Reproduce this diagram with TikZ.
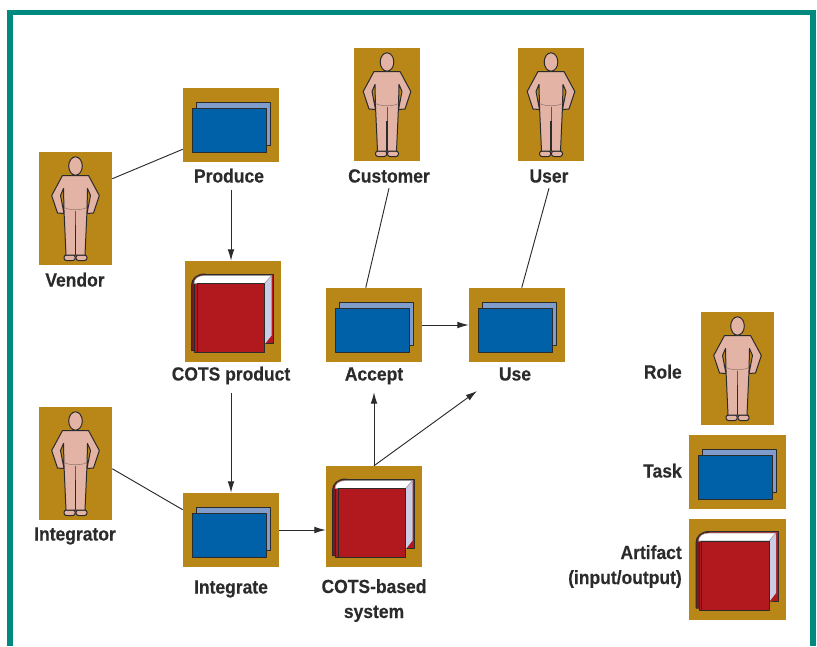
\documentclass[tikz,border=0pt]{standalone}
\usepackage{fontspec}
\setmainfont{Liberation Sans}[FakeStretch=0.92,BoldFeatures={FakeBold=0.3}]
\usetikzlibrary{arrows.meta}
\definecolor{ochre}{HTML}{B98717}
\definecolor{framecol}{HTML}{00897F}
\definecolor{skin}{HTML}{E3B3A5}
\definecolor{ink}{HTML}{2B2B2B}
\definecolor{taskfront}{HTML}{0060A8}
\definecolor{taskback}{HTML}{7F9CCB}
\definecolor{bookred}{HTML}{B2191E}
\definecolor{bookdark}{HTML}{7A1A20}
\definecolor{bookside}{HTML}{C9CDE6}
\tikzset{
  x=0.75pt,y=-0.75pt,
  iconbox/.style={fill=ochre,draw=none,inner sep=0pt},
  rolebox/.style={iconbox,minimum width=54.75pt,minimum height=84.75pt},
  narrowrole/.style={iconbox,minimum width=49.5pt,minimum height=84.75pt},
  taskbox/.style={iconbox,minimum width=72pt,minimum height=55.5pt},
  bookbox/.style={iconbox,minimum width=72pt,minimum height=75.75pt},
  lbl/.style={font=\fontsize{14.25}{18.75}\selectfont\bfseries,text=ink,inner sep=3pt,text height=10.5pt,text depth=0pt,align=center},
  conn/.style={draw=ink,line width=0.7pt},
  arr/.style={conn,-{Latex[length=8.5pt,width=5pt]}},
  figline/.style={draw=ink,line width=0.75pt,line join=round},
  rolefig/.pic={
    % feet
    \path[figline,fill=skin,rounded corners=1.8pt] (-11.5,46.5) rectangle (-0.3,52);
    \path[figline,fill=skin,rounded corners=1.8pt] (0.5,46.5) rectangle (11.5,52);
    % body and arms
    \path[figline,fill=skin] (-13,-33) -- (13,-33) -- (23.8,-13) -- (18,4.5) -- (11.5,5) -- (15,-13) -- (12,-20)
      -- (11.5,2) -- (9.5,46.5) -- (-9.5,46.5) -- (-11.5,2)
      -- (-12,-20) -- (-15,-13) -- (-11.5,5) -- (-18,4.5) -- (-23.8,-13) -- cycle;
    \draw[draw=ink!70!skin,line width=0.4pt] (0,2) -- (0,16);
    \draw[draw=ink,line width=0.8pt] (0,16) -- (0,46.5);
    \draw[draw=ink!45!skin,line width=0.4pt] (-11.5,-1) .. controls (-6,2) and (6,2) .. (11.5,-1);
    \path[figline,fill=skin] (0,-42.5) ellipse [x radius=6.8,y radius=9.2];
  },
  taskfig/.pic={
    \path[figline,fill=taskback] (-35,-23) rectangle (39,20);
    \path[figline,fill=taskfront] (-39,-17) rectangle (35,27);
  },
  bookfig/.pic={
    % back cover
    \path[figline,fill=bookred] (-28,-37.5) -- (40.8,-37.5) -- (40.8,32) -- (30,32) -- (-28,32) -- cycle;
    % spine
    \path[figline,fill=bookdark] (-41.5,-26) .. controls (-41.5,-33) and (-36,-37.5) .. (-28,-37.5) -- (-28,-28) -- (-35.8,39) -- (-41.5,39) -- cycle;
    \path[figline,fill=bookred] (-38.5,-28) rectangle (-35.8,41);
    % page block
    \path[draw=none,fill=bookside] (31.5,-28) -- (38.5,-36) -- (38.5,24) -- (31.5,33) -- cycle;
    \path[draw=ink!50,line width=0.4pt,fill=white] (-39,-28) .. controls (-39,-33) and (-35,-36) .. (-28,-36) -- (38.5,-36) -- (31.5,-28) -- cycle;
    % front cover
    \path[figline,fill=bookred] (-35.8,-28) rectangle (31.5,41);
  },
}
\begin{document}
\begin{tikzpicture}
\useasboundingbox (0,0) rectangle (817,646);
\draw[framecol,line width=4.4pt,line join=miter] (10,646) -- (10,12.5) -- (813,12.5) -- (813,646);

% icon boxes
\node[rolebox] (vendorIcon) at (75.5,208.5) {};
\node[rolebox] (integratorIcon) at (75.5,463.5) {};
\node[narrowrole] (customerIcon) at (387,104.5) {};
\node[narrowrole] (userIcon) at (551,104.5) {};
\node[rolebox] (legendRole) at (737.5,368.5) {};
\node[taskbox] (produceIcon) at (231,125) {};
\node[taskbox] (acceptIcon) at (374,325) {};
\node[taskbox] (useIcon) at (517,325) {};
\node[taskbox] (integrateIcon) at (231,530) {};
\node[taskbox,minimum width=72.75pt] (legendTask) at (737.5,472) {};
\node[bookbox] (cotsIcon) at (233,311.5) {};
\node[bookbox] (basedIcon) at (374,516.5) {};
\node[bookbox,minimum width=72.75pt] (legendBook) at (737.5,569) {};

% figures
\foreach \c in {vendorIcon,integratorIcon,customerIcon,userIcon,legendRole}
  \pic at (\c) {rolefig};
\foreach \c in {produceIcon,acceptIcon,useIcon,integrateIcon,legendTask}
  \pic at (\c) {taskfig};
\foreach \c in {cotsIcon,basedIcon,legendBook}
  \pic at (\c) {bookfig};

% labels
\node[lbl] (vendorLbl) at (75,279.5) {Vendor};
\node[lbl] (integratorLbl) at (75,533.5) {Integrator};
\node[lbl] (produceLbl) at (229,175.5) {Produce};
\node[lbl] (customerLbl) at (389,175.5) {Customer};
\node[lbl] (userLbl) at (549,175.5) {User};
\node[lbl] (cotsLbl) at (231,373.5) {COTS product};
\node[lbl] (acceptLbl) at (374,373.5) {Accept};
\node[lbl] (useLbl) at (515,373.5) {Use};
\node[lbl] (integrateLbl) at (231,586.5) {Integrate};
\node[lbl] (basedLbl) at (374,611) {COTS-based\\system};
\node[lbl,anchor=east] (roleLbl) at (686,371.5) {Role};
\node[lbl,anchor=east] (taskLbl) at (686,470.5) {Task};
\node[lbl,anchor=east,align=right] (artifactLbl) at (686,577) {Artifact\\(input/output)};

% connectors
\coordinate (useIn) at (477,391);
\draw[conn] ([yshift=-20.25pt]vendorIcon.north east) -- ([yshift=9.75pt]produceIcon.south west);
\draw[conn] ([yshift=-46.5pt]integratorIcon.north east) -- ([yshift=-12.75pt]integrateIcon.north west);
\draw[conn] ([yshift=-1.1pt]customerLbl.south) -- ([xshift=30pt]acceptIcon.north west);
\draw[conn] ([yshift=-1.1pt]userLbl.south) -- ([xshift=39.75pt]useIcon.north west);
\draw[arr] ([yshift=-2.6pt]produceLbl.south -| produceIcon.south) -- (integrateIcon.center |- cotsIcon.north);
\draw[arr] ([yshift=-6.4pt]cotsLbl.south) -- (integrateIcon.north);
\draw[arr] (integrateIcon.east) -- (basedIcon.west |- integrateIcon.east);
\draw[arr] (basedIcon.north) -- ([yshift=-5.6pt]acceptLbl.south);
\draw[arr] (basedIcon.north) -- (useIn);
\draw[arr] (acceptIcon.east) -- (useIcon.west);
\end{tikzpicture}
\end{document}
